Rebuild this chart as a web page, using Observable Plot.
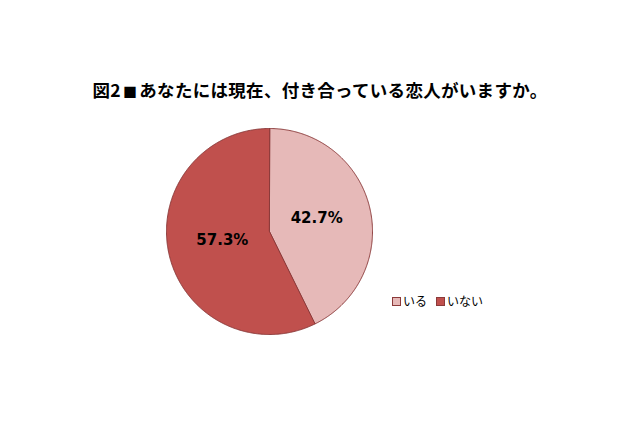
<!DOCTYPE html>
<html><head><meta charset="utf-8">
<script src="https://cdn.jsdelivr.net/npm/d3@7"></script>
<script src="https://cdn.jsdelivr.net/npm/@observablehq/plot@0.6"></script>
<style>
body{margin:0;background:#fff;width:640px;height:426px;overflow:hidden;position:relative;font-family:"Noto Sans CJK JP","DejaVu Sans",sans-serif;}
#title{position:absolute;left:0;width:640px;top:78px;text-align:center;font-weight:bold;font-size:17.5px;letter-spacing:0.3px;color:#000;line-height:24px;white-space:nowrap;}
#title .sq{font-size:14px;margin:0 2px;}
#chart{position:absolute;left:0;top:0;}
#legend{position:absolute;left:392px;top:293px;font-size:12px;color:#000;display:flex;align-items:center;white-space:nowrap;line-height:16px;}
#legend .sw{display:inline-block;width:7px;height:7px;border:1px solid #8B3A3A;margin-right:2px;}
#legend .item{display:flex;align-items:center;margin-right:9px;}
</style></head>
<body>
<div id="title">図2<span class="sq">■</span>あなたには現在、付き合っている恋人がいますか。</div>
<div id="chart"></div>
<div id="legend"></div>
<script>
const categories = ["いる", "いない"];
const values = [42.7, 57.3];
const labels = ["42.7%", "57.3%"];
const colors = ["#E6B9B8", "#C0504D"];

const pie = d3.pie().sort(null).value(d => d)(values);
function pt(a, r) { return [r * Math.sin(a), -r * Math.cos(a)]; }
const features = pie.map((p, i) => {
  const ring = [[0, 0]];
  const n = Math.max(2, Math.ceil((p.endAngle - p.startAngle) / (Math.PI / 360)));
  for (let k = 0; k <= n; k++) ring.push(pt(p.startAngle + (p.endAngle - p.startAngle) * k / n, 1));
  ring.push([0, 0]);
  return {type: "Feature", properties: {cat: categories[i], color: colors[i]}, geometry: {type: "Polygon", coordinates: [ring]}};
});
const labelData = pie.map((p, i) => {
  const [x, y] = pt((p.startAngle + p.endAngle) / 2, 0.47);
  return {x, y, label: labels[i]};
});

const chart = Plot.plot({
  width: 640, height: 426,
  marginLeft: 166, marginRight: 268, marginTop: 128, marginBottom: 92,
  projection: {type: "identity", domain: {type: "MultiPoint", coordinates: [[-1, -1], [1, 1], [-1, 1], [1, -1]]}},
  marks: [
    Plot.geo(features, {fill: d => d.properties.color, stroke: "#8B3A3A", strokeWidth: 1}),
    Plot.text(labelData, {x: "x", y: "y", text: "label", dy: -2, fontSize: 15, fontWeight: "bold", fill: "#000", fontFamily: "DejaVu Sans"})
  ]
});
document.getElementById("chart").append(chart);

const leg = document.getElementById("legend");
categories.forEach((c, i) => {
  const it = document.createElement("span");
  it.className = "item";
  it.innerHTML = `<span class="sw" style="background:${colors[i]}"></span><span>${c}</span>`;
  leg.append(it);
});
</script>
</body></html>
